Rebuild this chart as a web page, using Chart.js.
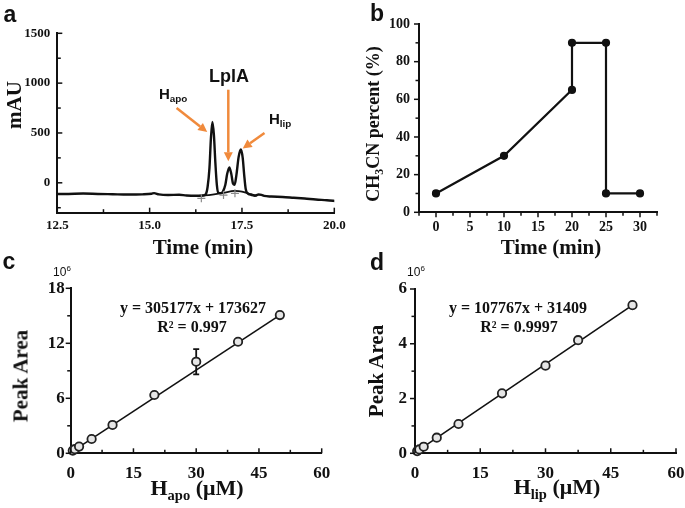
<!DOCTYPE html>
<html>
<head>
<meta charset="utf-8">
<script src="https://cdn.jsdelivr.net/npm/chart.js@4.4.1/dist/chart.umd.min.js"></script>
<style>
  html, body { margin: 0; padding: 0; background: #fff; }
  body { width: 685px; height: 508px; position: relative; overflow: hidden; }
  canvas { position: absolute; }
  .t { position: absolute; transform: translate(-50%, -50%); white-space: nowrap; color: #111; line-height: 1; }
  .l { transform: translate(0, -50%); }
  .rot { transform: translate(-50%, -50%) rotate(-90deg); }
  .serif { font-family: 'Liberation Serif', 'Times New Roman', serif; font-weight: bold; }
  .letter { font-family: 'Liberation Sans', Arial, sans-serif; font-weight: bold; font-size: 23px; }
  .peak { font-family: 'Liberation Sans Narrow', 'Liberation Sans', sans-serif; font-weight: bold; color: #111; }
  .sub { font-size: 0.66em; position: relative; top: 0.32em; }
  .exp { font-family: 'Liberation Sans', Arial, sans-serif; font-size: 12px; }
</style>
</head>
<body>
<canvas id="chartA" width="360" height="245" style="left:0px;top:0px;width:360px;height:245px"></canvas>
<canvas id="chartB" width="345" height="245" style="left:340px;top:0px;width:345px;height:245px"></canvas>
<canvas id="chartC" width="345" height="258" style="left:0px;top:250px;width:345px;height:258px"></canvas>
<canvas id="chartD" width="355" height="258" style="left:340px;top:250px;width:355px;height:258px"></canvas>

<div class="t letter" style="left:10px;top:14px">a</div>
<div class="t letter" style="left:377px;top:13px">b</div>
<div class="t letter" style="left:9px;top:261px">c</div>
<div class="t letter" style="left:377px;top:262px">d</div>

<div class="t serif rot" style="left:14px;top:105px;font-size:21px">mAU</div>
<div class="t serif" style="left:203px;top:247px;font-size:21px">Time (min)</div>
<div class="t peak l" style="left:159px;top:93px;font-size:15px">H<span class="sub">apo</span></div>
<div class="t peak" style="left:229px;top:76px;font-size:18px">LplA</div>
<div class="t peak l" style="left:269px;top:118px;font-size:15px">H<span class="sub">lip</span></div>

<div class="t serif rot" style="left:373px;top:124px;font-size:18px">CH<span class="sub">3</span>CN percent (%)</div>
<div class="t serif" style="left:551px;top:247px;font-size:21px">Time (min)</div>

<div class="t exp" style="left:62px;top:271px">10<sup style="font-size:8px">6</sup></div>
<div class="t serif rot" style="left:21px;top:376px;font-size:21px">Peak Area</div>
<div class="t serif" style="left:197px;top:488px;font-size:22px">H<span class="sub">apo</span> (μM)</div>
<div class="t serif" style="left:193px;top:308px;font-size:16px">y = 305177x + 173627</div>
<div class="t serif" style="left:192px;top:327px;font-size:16px">R² = 0.997</div>

<div class="t exp" style="left:416px;top:271px">10<sup style="font-size:8px">6</sup></div>
<div class="t serif rot" style="left:376px;top:371px;font-size:21px">Peak Area</div>
<div class="t serif" style="left:557px;top:487px;font-size:22px">H<span class="sub">lip</span> (μM)</div>
<div class="t serif" style="left:518px;top:308px;font-size:16px">y = 107767x + 31409</div>
<div class="t serif" style="left:519px;top:327px;font-size:16px">R² = 0.9997</div>

<script>
'use strict';

// a - chromatogram (time in min, signal in mAU)
let chromTime = [12.5, 12.8, 13.2, 13.6, 14.0, 14.4, 14.8, 15.05, 15.12, 15.25, 15.5, 15.8, 16.0, 16.3, 16.45,
  16.52, 16.57, 16.62, 16.66, 16.70, 16.74, 16.78, 16.82, 16.86, 16.92, 16.98, 17.05, 17.10, 17.16, 17.21,
  17.26, 17.30, 17.35, 17.41, 17.47, 17.52, 17.56, 17.60, 17.65, 17.75, 17.85, 17.95, 18.03, 18.1, 18.3,
  18.6, 18.9, 19.2, 19.5, 19.8, 20.05];
let chromMAU = [-113, -112, -108, -112, -115, -118, -116, -110, -104, -116, -122, -120, -128, -130, -128,
  -115, -40, 150, 450, 610, 480, 200, -20, -100, -105, -90, -20, 90, 155, 90,
  -10, -20, 80, 260, 334, 250, 80, -60, -105, -120, -130, -118, -122, -132, -138,
  -142, -150, -158, -168, -175, -183];
let baseTime = [16.35, 16.7, 17.0, 17.3, 17.5, 17.7, 17.9];
let baseMAU = [-130, -118, -100, -82, -88, -110, -130];
let markTime = [16.40, 17.0, 17.31];
let markMAU = [-156, -123, -106];
let arrows = [
  { from: [15.73, 750], to: [16.56, 510] },
  { from: [17.13, 934], to: [17.13, 215] },
  { from: [18.11, 500], to: [17.52, 345] }
];
let timeTicksA = ['12.5', '15.0', '17.5', '20.0'];
let mauTicks = ['0', '500', '1000', '1500'];

// b - CH3CN gradient
let gradTime = [0, 10, 20, 20, 25, 25, 30];
let gradPct = [10, 30, 65, 90, 90, 10, 10];
let timeTicksB = ['0', '5', '10', '15', '20', '25', '30'];
let pctTicks = ['0', '20', '40', '60', '80', '100'];

// c - H apo calibration (peak area x 10^6)
let apoConc = [0.5, 1, 2, 5, 10, 20, 30, 40, 50];
let apoArea = [0.3, 0.45, 0.73, 1.56, 3.09, 6.36, 9.99, 12.17, 15.08];
let apoErr = [0, 0, 0, 0, 0, 0, 1.37, 0, 0];
let apoFitX = [0.5, 50];
let apoFitY = [0.24, 15.08];
let apoAreaTicks = ['0', '6', '12', '18'];

// d - H lip calibration (peak area x 10^6)
let lipConc = [0.5, 1, 2, 5, 10, 20, 30, 37.5, 50];
let lipArea = [0.08, 0.14, 0.24, 0.57, 1.07, 2.19, 3.2, 4.13, 5.41];
let lipFitX = [0.5, 50];
let lipFitY = [0.08, 5.41];
let lipAreaTicks = ['0', '2', '4', '6'];

let concTicks = ['0', '15', '30', '45', '60'];

function pts(xs, ys) {
  return xs.map((x, i) => ({ x: x, y: ys[i] }));
}

function axis(min, max, step, labels, size, pad) {
  return {
    type: 'linear',
    min: min,
    max: max,
    border: { display: true, color: '#111', width: 2 },
    grid: { display: false, drawTicks: false },
    // ticks on multiples of step, not counted from min
    afterBuildTicks: function (s) {
      let out = [];
      for (let k = Math.ceil(min / step - 1e-9); k * step <= max + 1e-9; k++) {
        out.push({ value: +(k * step).toFixed(6) });
      }
      s.ticks = out;
    },
    ticks: {
      autoSkip: false,
      maxRotation: 0,
      padding: pad,
      color: '#111',
      font: { family: 'Liberation Serif', weight: 'bold', size: size },
      callback: function (v) {
        let hit = labels.find(l => Math.abs(parseFloat(l) - v) < 1e-6);
        return hit === undefined ? '' : hit;
      }
    }
  };
}

// small tick marks, drawn in or out of the plot
const tickMarks = {
  id: 'tickMarks',
  afterDraw(chart, args, opts) {
    let ctx = chart.ctx;
    ctx.save();
    ctx.strokeStyle = '#111';
    ctx.lineWidth = 1.5;
    ['x', 'y'].forEach(id => {
      let s = chart.scales[id];
      let dir = opts[id] === 'in' ? 1 : -1;
      s.ticks.forEach(t => {
        let p = s.getPixelForValue(t.value);
        let len = t.label ? 5 : 3.5;
        ctx.beginPath();
        if (id === 'x') {
          let y0 = chart.chartArea.bottom;
          ctx.moveTo(p, y0);
          ctx.lineTo(p, y0 - dir * len);
        } else {
          let x0 = chart.chartArea.left;
          ctx.moveTo(x0, p);
          ctx.lineTo(x0 + dir * len, p);
        }
        ctx.stroke();
      });
    });
    ctx.restore();
  }
};

const arrowPlugin = {
  id: 'arrowPlugin',
  afterDatasetsDraw(chart, args, opts) {
    if (!opts.list) return;
    let ctx = chart.ctx;
    let xs = chart.scales.x;
    let ys = chart.scales.y;
    ctx.save();
    ctx.strokeStyle = '#f08a3c';
    ctx.fillStyle = '#f08a3c';
    ctx.lineWidth = 2.5;
    opts.list.forEach(a => {
      let x1 = xs.getPixelForValue(a.from[0]);
      let y1 = ys.getPixelForValue(a.from[1]);
      let x2 = xs.getPixelForValue(a.to[0]);
      let y2 = ys.getPixelForValue(a.to[1]);
      let ang = Math.atan2(y2 - y1, x2 - x1);
      let hl = 9;
      let hw = 4.5;
      let bx = x2 - hl * Math.cos(ang);
      let by = y2 - hl * Math.sin(ang);
      ctx.beginPath();
      ctx.moveTo(x1, y1);
      ctx.lineTo(bx, by);
      ctx.stroke();
      ctx.beginPath();
      ctx.moveTo(x2, y2);
      ctx.lineTo(bx + hw * Math.sin(ang), by - hw * Math.cos(ang));
      ctx.lineTo(bx - hw * Math.sin(ang), by + hw * Math.cos(ang));
      ctx.closePath();
      ctx.fill();
    });
    ctx.restore();
  }
};

const errorBars = {
  id: 'errorBars',
  beforeDatasetsDraw(chart, args, opts) {
    if (!opts.err) return;
    let ctx = chart.ctx;
    let meta = chart.getDatasetMeta(0);
    let ys = chart.scales.y;
    let vals = chart.data.datasets[0].data;
    ctx.save();
    ctx.strokeStyle = '#111';
    ctx.lineWidth = 1.8;
    opts.err.forEach((e, i) => {
      if (!e) return;
      let x = meta.data[i].x;
      let top = ys.getPixelForValue(vals[i].y + e);
      let bot = ys.getPixelForValue(vals[i].y - e);
      ctx.beginPath();
      ctx.moveTo(x, top); ctx.lineTo(x, bot);
      ctx.moveTo(x - 3, top); ctx.lineTo(x + 3, top);
      ctx.moveTo(x - 3, bot); ctx.lineTo(x + 3, bot);
      ctx.stroke();
    });
    ctx.restore();
  }
};

// box = canvas position on page, area = wanted plot area on page
function makeChart(id, box, area, datasets, xAxis, yAxis, plugOpts) {
  xAxis.afterFit = s => { s.height = box.top + box.h - area.bottom; };
  yAxis.afterFit = s => { s.width = area.left - box.left; };
  let plugins = { legend: { display: false }, tooltip: { enabled: false } };
  Object.assign(plugins, plugOpts);
  return new Chart(document.getElementById(id), {
    type: 'scatter',
    data: { datasets: datasets },
    options: {
      responsive: false,
      animation: false,
      layout: {
        padding: { left: 0, bottom: 0, top: area.top - box.top, right: box.left + box.w - area.right }
      },
      scales: { x: xAxis, y: yAxis },
      plugins: plugins
    },
    plugins: [tickMarks, arrowPlugin, errorBars]
  });
}

// panel a
makeChart('chartA',
  { left: 0, top: 0, w: 360, h: 245 },
  { left: 57.3, top: 33.3, right: 334.3, bottom: 212.7 },
  [
    {
      data: pts(markTime, markMAU), pointStyle: 'cross', pointRadius: 4,
      borderColor: '#8a8a8a', borderWidth: 1.2, showLine: false
    },
    {
      data: pts(chromTime, chromMAU), showLine: true, pointRadius: 0,
      borderColor: '#111', borderWidth: 2.4, cubicInterpolationMode: 'monotone'
    },
    {
      data: pts(baseTime, baseMAU), showLine: true, pointRadius: 0,
      borderColor: '#111', borderWidth: 1.8, cubicInterpolationMode: 'monotone'
    }
  ],
  axis(12.5, 20, 1.25, timeTicksA, 13, 5),
  axis(-300, 1500, 250, mauTicks, 13, 7),
  { tickMarks: { x: 'in', y: 'in' }, arrowPlugin: { list: arrows } }
);

// panel b
makeChart('chartB',
  { left: 340, top: 0, w: 345, h: 245 },
  { left: 419, top: 24, right: 657, bottom: 212.3 },
  [
    {
      data: pts(gradTime, gradPct), showLine: true, pointRadius: 3,
      pointBackgroundColor: '#111', borderColor: '#111', borderWidth: 2.2
    }
  ],
  axis(-2.5, 32.5, 2.5, timeTicksB, 14, 7),
  axis(0, 100, 10, pctTicks, 14, 9),
  { tickMarks: { x: 'out', y: 'out' } }
);

// panel c
makeChart('chartC',
  { left: 0, top: 250, w: 345, h: 258 },
  { left: 70.7, top: 288.3, right: 321.7, bottom: 453.3 },
  [
    {
      data: pts(apoConc, apoArea), pointRadius: 4.2, pointBorderWidth: 1.8,
      pointBorderColor: '#222', pointBackgroundColor: '#e6e6e6', showLine: false, clip: 6
    },
    {
      data: pts(apoFitX, apoFitY), showLine: true, pointRadius: 0,
      borderColor: '#111', borderWidth: 1.6
    }
  ],
  axis(0, 60, 7.5, concTicks, 17, 10),
  axis(0, 18, 3, apoAreaTicks, 17, 6),
  { tickMarks: { x: 'in', y: 'out' }, errorBars: { err: apoErr } }
);

// panel d
makeChart('chartD',
  { left: 340, top: 250, w: 355, h: 258 },
  { left: 415, top: 289, right: 676, bottom: 453.3 },
  [
    {
      data: pts(lipConc, lipArea), pointRadius: 4.2, pointBorderWidth: 1.8,
      pointBorderColor: '#222', pointBackgroundColor: '#e6e6e6', showLine: false, clip: 6
    },
    {
      data: pts(lipFitX, lipFitY), showLine: true, pointRadius: 0,
      borderColor: '#111', borderWidth: 1.6
    }
  ],
  axis(0, 60, 7.5, concTicks, 17, 10),
  axis(0, 6, 1, lipAreaTicks, 17, 8),
  { tickMarks: { x: 'in', y: 'out' } }
);
</script>
</body>
</html>
